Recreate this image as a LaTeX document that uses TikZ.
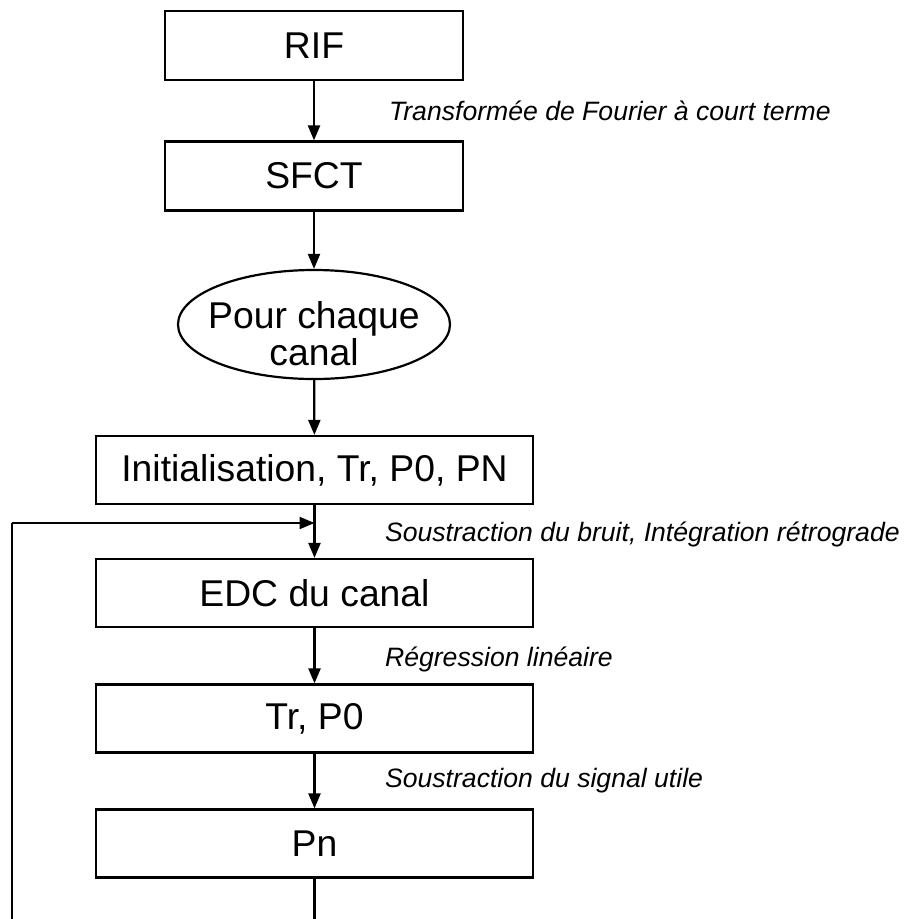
\documentclass[tikz,border=0pt]{standalone}
\usepackage{fontspec}
\setmainfont{Liberation Sans}
\usetikzlibrary{shapes.geometric,arrows.meta}
\begin{document}
\begin{tikzpicture}[x=1pt,y=-1pt,
  line width=2.2pt,
  boxtext/.style={font=\fontsize{37.3}{40}\selectfont},
  narrowbox/.style={draw,rectangle,boxtext,minimum width=298pt,minimum height=69pt,inner sep=0pt},
  widebox/.style={draw,rectangle,boxtext,minimum width=437pt,minimum height=68pt,inner sep=0pt},
  loopnode/.style={draw,ellipse,minimum width=272pt,minimum height=109pt,inner sep=0pt},
  looptext/.style={boxtext,align=center,inner sep=0pt},
  steplabel/.style={anchor=west,inner sep=0pt,text height=19.3pt,text depth=0pt,font=\fontsize{26.6}{30}\selectfont\itshape},
  arr/.style={-{Triangle[length=15pt,width=12pt]}}
]
\clip (0,0) rectangle (905,919);
\node[narrowbox] (rif) at (314,45.5) {RIF};
\node[narrowbox] (sfct) at (314,176) {SFCT};
\node[loopnode] (pcc) at (314,324.5) {};
\node[looptext] (pcctext) at (314,334) {Pour chaque\\[-3pt]canal};
\node[widebox] (init) at (314.5,470) {Initialisation, Tr, P0, PN};
\node[widebox] (edc) at (314.5,593) {EDC du canal};
\node[widebox] (trp) at (314.5,718.5) {Tr, P0};
\node[widebox] (pn) at (314.5,843.5) {Pn};

\node[steplabel] (l1) at (388,111) {Transformée de Fourier à court terme};
\node[steplabel] (l2) at (384,532) {Soustraction du bruit, Intégration rétrograde};
\node[steplabel] (l3) at (384,657) {Régression linéaire};
\node[steplabel] (l4) at (384,778) {Soustraction du signal utile};

\draw[arr] (rif) -- (sfct);
\draw[arr] (sfct) -- (pcc);
\draw[arr] (pcc) -- (init);
\draw[arr] (init) -- (edc);
\draw[arr] (edc) -- (trp);
\draw[arr] (trp) -- (pn);

\coordinate (join) at (314.5,523);
\coordinate (down) at (314.5,940);
\coordinate (corner) at (12,940);
\coordinate (up) at (12,523);
\draw (pn.south) -- (down) -- (corner) -- (up);
\draw[arr] (up) -- (join);
\end{tikzpicture}
\end{document}
